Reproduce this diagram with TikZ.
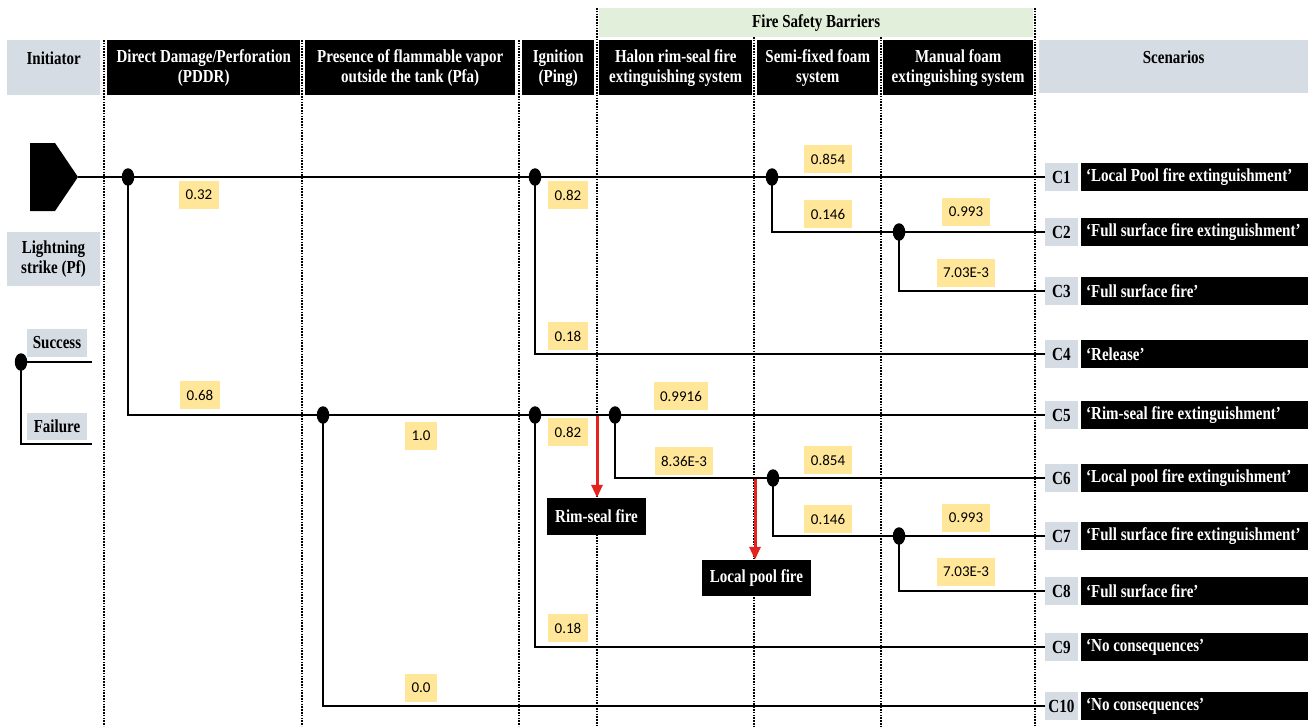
\documentclass[tikz,border=0pt]{standalone}
\usepackage{fontspec}
\setmainfont{Liberation Serif}[FakeStretch=0.82]
\newfontfamily\numfont{Carlito}
\usetikzlibrary{arrows.meta,shapes.geometric}
\definecolor{grayc}{HTML}{D6DCE4}
\definecolor{greenc}{HTML}{E2EFDA}
\definecolor{yellowc}{HTML}{FFE699}
\definecolor{redc}{HTML}{E3231E}
\begin{document}
\begin{tikzpicture}[x=1pt,y=-1pt,
  hdr/.style={fill=black,text=white,font=\bfseries\fontsize{18.3}{20}\selectfont,align=center,anchor=north west,inner sep=0pt,minimum height=55pt},
  ghdr/.style={hdr,fill=grayc,text=black},
  vsep/.style={line width=2pt,dash pattern=on 1.5pt off 1.3pt},
  br/.style={line width=2pt},
  dot/.style={ellipse,fill=black,inner sep=0pt,minimum width=12.5pt,minimum height=17.5pt},
  prob/.style={fill=yellowc,font=\numfont\fontsize{15}{17}\selectfont,inner xsep=6.5pt,inner ysep=0pt,minimum height=28pt},
  cid/.style={fill=grayc,font=\bfseries\fontsize{18.5}{18}\selectfont,inner xsep=1pt,inner ysep=0pt,minimum width=33pt,minimum height=28pt},
  scen/.style={fill=black,text=white,font=\bfseries\fontsize{18.3}{18}\selectfont,anchor=west,inner xsep=5pt,inner ysep=0pt,minimum width=227pt,minimum height=28pt},
  legend/.style={fill=grayc,font=\bfseries\fontsize{18.3}{20}\selectfont,align=center,inner sep=0pt},
  fire/.style={fill=black,text=white,font=\bfseries\fontsize{18.3}{18}\selectfont,inner sep=0pt},
  redarrow/.style={draw=redc,line width=3pt,-{Triangle[length=13pt,width=11pt]}}
]
\useasboundingbox (0,0) rectangle (1314,726);
% vertical separators
\draw[vsep] (104,40) -- (104,726);
\draw[vsep] (302,40) -- (302,726);
\draw[vsep] (519,40) -- (519,726);
\draw[vsep] (597,8) -- (597,726);
\draw[vsep] (754,37) -- (754,726);
\draw[vsep] (881,37) -- (881,726);
\draw[vsep] (1035,8) -- (1035,726);
% headers
\node[fill=greenc,font=\bfseries\fontsize{18.3}{18}\selectfont,anchor=north west,inner sep=0pt,minimum width=434pt,minimum height=29pt] (fsb) at (599,8) {Fire Safety Barriers};
\node[ghdr,minimum width=93pt] (hinit) at (7,40) {Initiator\\\mbox{}};
\node[hdr,minimum width=193pt] (hpddr) at (107,40) {Direct Damage/Perforation\\(PDDR)};
\node[hdr,minimum width=210pt] (hpfa) at (305,40) {Presence of flammable vapor\\outside the tank (Pfa)};
\node[hdr,minimum width=72pt] (hping) at (522,40) {Ignition\\(Ping)};
\node[hdr,minimum width=153pt] (hhalon) at (599,40) {Halon rim-seal fire\\extinguishing system};
\node[hdr,minimum width=121pt] (hsemi) at (757,40) {Semi-fixed foam\\system};
\node[hdr,minimum width=150pt] (hman) at (883,40) {Manual foam\\extinguishing system};
\node[ghdr,minimum width=269pt,minimum height=53pt] (hscen) at (1039,40) {Scenarios\\\mbox{}};
% initiator shape
\fill (30,143) -- (55,143) -- (78,177) -- (55,211) -- (30,211) -- cycle;
\coordinate (tip) at (78,177);
\node[legend,minimum width=93pt,minimum height=54pt] (lstrike) at (53.5,259) {Lightning\\strike (Pf)};
% legend
\node[legend,minimum width=60pt,minimum height=28pt] (lsucc) at (57,343) {Success};
\node[legend,minimum width=60pt,minimum height=27pt] (lfail) at (57,426) {Failure};
\coordinate (lsend) at (92,362);
\coordinate (lfend) at (92,444);
\coordinate (ld) at (21,362);
\draw[br] (ld) -- (lsend);
\draw[br] (ld) |- (lfend);
\node[dot] (ldot) at (ld) {};
% scenarios
\foreach \i/\y/\t in {1/177/{‘Local Pool fire extinguishment’},
  2/232/{‘Full surface fire extinguishment’},
  3/291/{‘Full surface fire’},
  4/354/{‘Release’},
  5/415/{‘Rim-seal fire extinguishment’},
  6/478/{‘Local pool fire extinguishment’},
  7/536/{‘Full surface fire extinguishment’},
  8/591/{‘Full surface fire’},
  9/647/{‘No consequences’},
  10/706/{‘No consequences’}}{
  \node[cid] (c\i) at (1061.5,\y) {C\i};
  \node[scen] (s\i) at (1081,\y) {\makebox[217pt][l]{\t}};
}
% branch points
\coordinate (d1) at (128,177);
\coordinate (d2) at (535,177);
\coordinate (d3) at (772,177);
\coordinate (d4) at (899,232);
\coordinate (d5) at (323,415);
\coordinate (d6) at (535,415);
\coordinate (d7) at (615,415);
\coordinate (d8) at (773,478);
\coordinate (d9) at (899,536);
\draw[br] (tip) -- (c1.west);
\draw[br] (d1) |- (c5.west);
\draw[br] (d2) |- (c4.west);
\draw[br] (d3) |- (c2.west);
\draw[br] (d4) |- (c3.west);
\draw[br] (d5) |- (c10.west);
\draw[br] (d6) |- (c9.west);
\draw[br] (d7) |- (c6.west);
\draw[br] (d8) |- (c7.west);
\draw[br] (d9) |- (c8.west);
\foreach \d in {d1,d2,d3,d4,d5,d6,d7,d8,d9}{\node[dot] (n\d) at (\d) {};}
% fire boxes and red arrows
\node[fire,minimum width=99pt,minimum height=37pt] (rim) at (596.5,516.5) {Rim-seal fire};
\node[fire,minimum width=109pt,minimum height=36pt] (lpf) at (756.5,578) {Local pool fire};
\coordinate (r1) at (597,416);
\coordinate (r2) at (755,479);
\draw[redarrow] (r1) -- (r1 |- rim.north);
\draw[redarrow] (r2) -- (r2 |- lpf.north);
% probabilities
\node[prob] (p1) at (199,195) {0.32};
\node[prob] (p2) at (568,195) {0.82};
\node[prob] (p3) at (828,159) {0.854};
\node[prob] (p4) at (828,214) {0.146};
\node[prob] (p5) at (966,212) {0.993};
\node[prob] (p6) at (966,273) {7.03E-3};
\node[prob] (p7) at (568,336) {0.18};
\node[prob] (p8) at (200,395) {0.68};
\node[prob] (p9) at (681,396) {0.9916};
\node[prob] (p10) at (421,436) {1.0};
\node[prob] (p11) at (568,432) {0.82};
\node[prob] (p12) at (684,461) {8.36E-3};
\node[prob] (p13) at (828,460) {0.854};
\node[prob] (p14) at (828,519) {0.146};
\node[prob] (p15) at (966,518) {0.993};
\node[prob] (p16) at (966,572) {7.03E-3};
\node[prob] (p17) at (568,628) {0.18};
\node[prob] (p18) at (421,688) {0.0};
\end{tikzpicture}
\end{document}
